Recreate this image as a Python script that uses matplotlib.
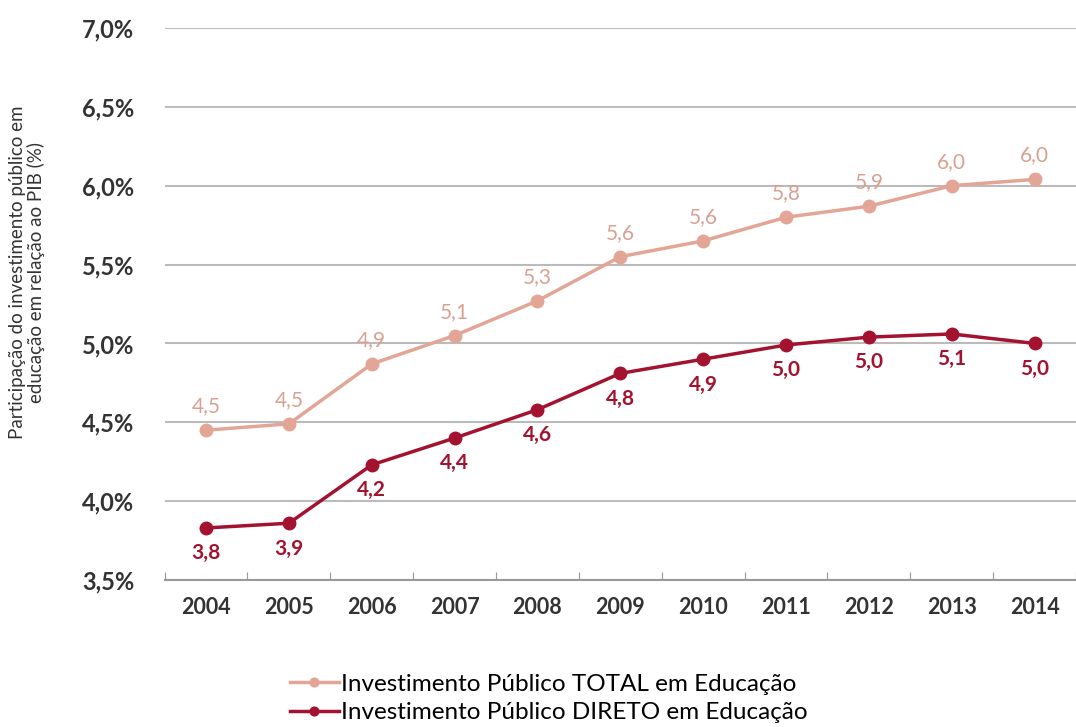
import matplotlib.pyplot as plt

plt.rcParams['font.family'] = ['Lato', 'DejaVu Sans']

years = ["2004", "2005", "2006", "2007", "2008", "2009", "2010", "2011", "2012", "2013", "2014"]
total = [4.45, 4.49, 4.87, 5.05, 5.27, 5.55, 5.65, 5.80, 5.87, 6.00, 6.04]
total_lbl = ["4,5", "4,5", "4,9", "5,1", "5,3", "5,6", "5,6", "5,8", "5,9", "6,0", "6,0"]
direto = [3.83, 3.86, 4.23, 4.40, 4.58, 4.81, 4.90, 4.99, 5.04, 5.06, 5.00]
direto_lbl = ["3,8", "3,9", "4,2", "4,4", "4,6", "4,8", "4,9", "5,0", "5,0", "5,1", "5,0"]
yticks = [3.5, 4.0, 4.5, 5.0, 5.5, 6.0, 6.5, 7.0]

c_total = "#E3A596"
c_direto = "#A3132F"

fig = plt.figure(figsize=(10.76, 7.27), dpi=100)
ax = fig.add_axes([0.153, 0.2022, 0.847, 0.7593])
x = list(range(len(years)))

ax.plot(x, total, color=c_total, lw=2.5, marker="o", ms=9,
        label="Investimento Público TOTAL em Educação", zorder=3)
ax.plot(x, direto, color=c_direto, lw=2.5, marker="o", ms=9,
        label="Investimento Público DIRETO em Educação", zorder=3)

for i in x:
    ax.annotate(total_lbl[i], (i, total[i]), xytext=(0, 10), textcoords="offset points",
                ha="center", va="bottom", color="#D9A091", fontsize=15)
    ax.annotate(direto_lbl[i], (i, direto[i]), xytext=(0, -11), textcoords="offset points",
                ha="center", va="top", color=c_direto, fontsize=15, fontweight="bold")

ax.set_xlim(-0.5, 10.42)
ax.set_ylim(3.5, 7.0)
ax.set_yticks(yticks)
ax.set_yticklabels([("%.1f%%" % v).replace(".", ",") for v in yticks])
ax.set_xticks([i - 0.5 for i in range(len(years) + 1)])
ax.set_xticklabels([])
ax.set_xticks(x, minor=True)
ax.set_xticklabels(years, minor=True)
ax.tick_params(axis="x", which="major", length=6, color="#999999", direction="in")
ax.tick_params(axis="x", which="minor", length=0, pad=12, labelsize=15.5)
ax.tick_params(axis="y", length=0, pad=22, labelsize=17)
for lab in ax.get_xticklabels(minor=True) + ax.get_yticklabels():
    lab.set_fontweight("bold")
    lab.set_color("#333333")

ax.grid(axis="y", color="#BBBBBB", lw=1.5)
for s in ["top", "right", "left"]:
    ax.spines[s].set_visible(False)
ax.spines["bottom"].set_color("#999999")
ax.spines["bottom"].set_linewidth(1.5)

fig.text(0.025, 0.625, "Participação do investimento público em\neducação em relação ao PIB (%)",
         rotation=90, ha="center", va="center", fontsize=13.5, color="#333333",
         linespacing=1.05)

fig.legend(loc="center", bbox_to_anchor=(0.51, 0.039), frameon=False, fontsize=17.5,
           handlelength=2.0, handletextpad=0.1, labelspacing=0.3, markerscale=0.7)

fig.savefig("out.png", dpi=100)
